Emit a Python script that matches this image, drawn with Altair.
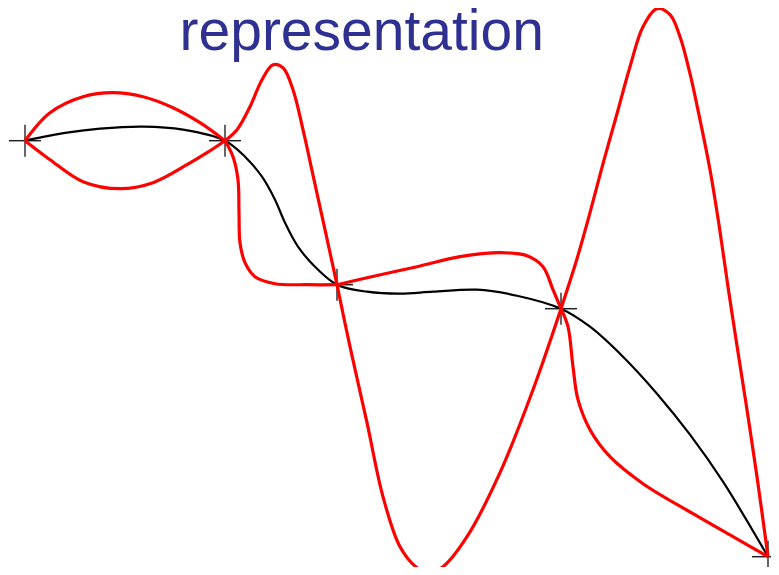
import altair as alt
import pandas as pd

# knots
knot_x = [0.00, 2.00, 3.12, 5.36, 7.43]
knot_y = [4.16, 4.16, 2.72, 2.48, 0.00]

# black interpolating curve
black_x = [0.00, 0.42, 0.75, 1.18, 1.58, 2.00, 2.20, 2.37, 2.50, 2.60, 2.73, 2.90, 3.12,
           3.42, 3.75, 4.08, 4.52, 4.92, 5.36, 5.65, 5.98, 6.32, 6.65, 6.98, 7.43]
black_y = [4.16, 4.24, 4.28, 4.30, 4.27, 4.16, 4.00, 3.80, 3.57, 3.34, 3.10, 2.90, 2.72,
           2.65, 2.63, 2.65, 2.67, 2.61, 2.48, 2.30, 2.00, 1.63, 1.22, 0.75, 0.00]

# red curves, one per segment and variant
r0a_x = [0.00, 0.25, 0.58, 0.88, 1.18, 1.48, 1.75, 2.00]
r0a_y = [4.16, 4.44, 4.60, 4.64, 4.60, 4.49, 4.34, 4.16]
r0b_x = [0.00, 0.25, 0.58, 0.95, 1.28, 1.62, 1.82, 2.00]
r0b_y = [4.16, 3.97, 3.75, 3.68, 3.74, 3.92, 4.04, 4.16]

r1a_x = [2.00, 2.12, 2.25, 2.37, 2.48, 2.58, 2.68, 2.78, 2.89, 3.00, 3.12]
r1a_y = [4.16, 4.27, 4.50, 4.77, 4.92, 4.89, 4.67, 4.27, 3.77, 3.27, 2.72]
r1b_x = [2.00, 2.08, 2.13, 2.14, 2.15, 2.20, 2.30, 2.50, 2.83, 3.12]
r1b_y = [4.16, 4.00, 3.77, 3.44, 3.14, 2.94, 2.80, 2.73, 2.72, 2.72]

r2a_x = [3.12, 3.42, 3.92, 4.35, 4.75, 5.02, 5.18, 5.28, 5.36]
r2a_y = [2.72, 2.79, 2.90, 3.00, 3.04, 3.01, 2.90, 2.67, 2.48]
r2b_x = [3.12, 3.25, 3.42, 3.58, 3.75, 3.92, 4.03, 4.18, 4.42, 4.75, 5.08, 5.36]
r2b_y = [2.72, 2.10, 1.34, 0.60, 0.10, -0.11, -0.16, -0.10, 0.20, 0.84, 1.67, 2.48]

r3a_x = [5.36, 5.52, 5.65, 5.78, 5.92, 6.05, 6.18, 6.32, 6.45, 6.55, 6.65, 6.75,
         6.85, 6.94, 7.03, 7.12, 7.22, 7.32, 7.43]
r3a_y = [2.48, 2.98, 3.44, 3.93, 4.43, 4.90, 5.30, 5.48, 5.42, 5.20, 4.83, 4.37,
         3.87, 3.32, 2.70, 2.11, 1.47, 0.80, 0.00]
r3b_x = [5.36, 5.43, 5.48, 5.53, 5.65, 5.85, 6.18, 6.68, 7.08, 7.43]
r3b_y = [2.48, 2.30, 1.90, 1.57, 1.27, 1.00, 0.73, 0.43, 0.20, 0.00]

title_text = ["representation"]

red_curves = {
    "r0a": (r0a_x, r0a_y), "r0b": (r0b_x, r0b_y),
    "r1a": (r1a_x, r1a_y), "r1b": (r1b_x, r1b_y),
    "r2a": (r2a_x, r2a_y), "r2b": (r2b_x, r2b_y),
    "r3a": (r3a_x, r3a_y), "r3b": (r3b_x, r3b_y),
}

rows = []
for name, (xs_, ys_) in red_curves.items():
    for i, (a, b) in enumerate(zip(xs_, ys_)):
        rows.append({"curve": name, "i": i, "x": a, "y": b})
red_df = pd.DataFrame(rows)
black_df = pd.DataFrame({"i": range(len(black_x)), "x": black_x, "y": black_y})
knot_df = pd.DataFrame({"x": knot_x, "y": knot_y})

xs = alt.Scale(domain=[-0.17, 7.46], nice=False, zero=False)
ys = alt.Scale(domain=[-0.103, 5.487], nice=False, zero=False)

X = alt.X("x:Q", scale=xs, axis=None)
Y = alt.Y("y:Q", scale=ys, axis=None)

cross_h = alt.Chart(knot_df).mark_point(
    shape="M-1,0L1,0", size=1024, filled=False, stroke="#222222", strokeWidth=1.5, opacity=1
).encode(x=X, y=Y)
cross_v = alt.Chart(knot_df).mark_point(
    shape="M0,-1L0,1", size=1024, filled=False, stroke="#555555", strokeWidth=1.8, opacity=1
).encode(x=X, y=Y)

black = alt.Chart(black_df).mark_line(
    color="black", strokeWidth=2.2, interpolate="catmull-rom"
).encode(x=X, y=Y, order="i:Q")

red = alt.Chart(red_df).mark_line(
    color="#ff0000", strokeWidth=3.2, interpolate="catmull-rom"
).encode(x=X, y=Y, detail="curve:N", order="i:Q")

title = alt.Chart(pd.DataFrame({"t": title_text})).mark_text(
    font="Liberation Sans", fontSize=57, color="#2E3192", align="center", baseline="alphabetic"
).encode(text="t:N", x=alt.value(353.7), y=alt.value(42))

chart = alt.layer(cross_h, cross_v, black, red, title).properties(
    width=763, height=559, padding=0, autosize=alt.AutoSizeParams(type="none")
).configure_view(stroke=None)

chart.save("out.html", embed_options={"renderer": "svg", "actions": False})
